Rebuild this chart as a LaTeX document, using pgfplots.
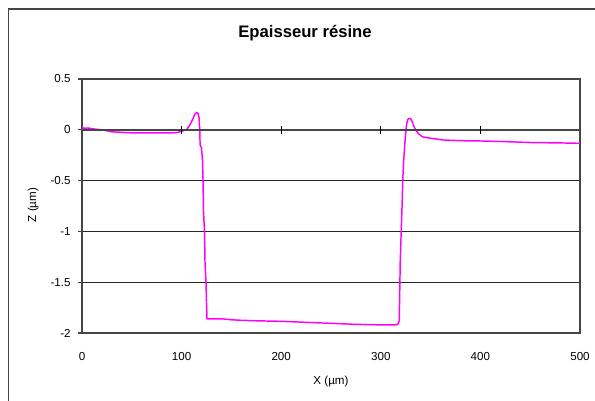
\documentclass[border=0pt]{standalone}
\usepackage{pgfplots}
\pgfplotsset{compat=1.18}
\usepackage{fontspec}
\setmainfont{Liberation Sans}
\definecolor{axgray}{HTML}{454545}
\begin{document}
\begin{tikzpicture}
\useasboundingbox (0,0) rectangle (446.25pt,300pt);
\begin{scope}
\clip (0,0) rectangle (446.25pt,300pt);
\draw[axgray, line width=1.1pt] (6.2pt,-10pt) rectangle (460pt,293.2pt);
\end{scope}
\begin{axis}[
  at={(61.5pt,50.25pt)}, anchor=south west,
  scale only axis, width=373.5pt, height=190.5pt,
  xmin=0, xmax=500, ymin=-2, ymax=0.5,
  xtick={0,100,200,300,400,500},
  xticklabels={0,100,200,300,400,500},
  ytick={-2,-1.5,-1,-0.5,0,0.5},
  yticklabels={-2,-1.5,-1,-0.5,0,0.5},
  ytick pos=left, tick align=outside,
  major tick length=3pt,
  xtick style={draw=none},
  ytick style={axgray, line width=0.9pt},
  ymajorgrids,
  grid style={black!85, line width=0.7pt},
  axis line style={axgray, line width=1.1pt},
  tick label style={font=\fontsize{8.7}{10}\selectfont},
  xticklabel style={yshift=-8pt},
  yticklabel style={xshift=-2pt},
  clip=false,
]
\addplot[color={rgb,255:red,255;green,0;blue,255}, line width=1.1pt] coordinates {
(0,0.02) (3,0.015) (6,0.018) (10,0.01) (15,0.005) (20,0.0) (25,-0.01) (30,-0.02) (40,-0.025) (50,-0.03) (60,-0.03) (70,-0.03) (80,-0.03) (90,-0.03) (95,-0.028) (100,-0.015) (103,-0.005) (105,0.0) (107,0.03) (109,0.06) (111,0.1) (113,0.15) (115,0.17) (116.5,0.16) (117.5,0.12) (118.2,0.0) (118.6,-0.15) (120,-0.18) (121,-0.3) (121.5,-0.5) (122,-0.8) (123,-1.0) (123.5,-1.3) (124.5,-1.5) (125,-1.7) (125.5,-1.86) (130,-1.86) (140,-1.86) (150,-1.87) (160,-1.875) (175,-1.88) (200,-1.885) (225,-1.895) (250,-1.905) (275,-1.915) (300,-1.92) (310,-1.92) (315,-1.92) (317.5,-1.91) (318.5,-1.88) (319,-1.6) (319.5,-1.3) (320.5,-1.0) (321.5,-0.7) (322,-0.5) (323,-0.3) (324,-0.15) (325,-0.03) (326,0.06) (327,0.1) (328,0.11) (330,0.11) (331.5,0.08) (333,0.04) (335,0.0) (338,-0.04) (342,-0.07) (348,-0.08) (355,-0.09) (362,-0.1) (375,-0.105) (390,-0.11) (400,-0.11) (420,-0.115) (435,-0.12) (450,-0.125) (470,-0.128) (485,-0.13) (500,-0.133)
};
\draw[axgray, line width=1.1pt] (axis cs:0,0) -- (axis cs:500,0);
\draw[black, line width=1pt] ([yshift=-3.2pt]axis cs:100,0) -- ([yshift=3.2pt]axis cs:100,0);
\draw[black, line width=1pt] ([yshift=-3.2pt]axis cs:200,0) -- ([yshift=3.2pt]axis cs:200,0);
\draw[black, line width=1pt] ([yshift=-3.2pt]axis cs:300,0) -- ([yshift=3.2pt]axis cs:300,0);
\draw[black, line width=1pt] ([yshift=-3.2pt]axis cs:400,0) -- ([yshift=3.2pt]axis cs:400,0);
\end{axis}
\node[font=\fontsize{12.5}{14}\selectfont\bfseries] at (228.75pt,275.25pt) {Epaisseur résine};
\node[font=\fontsize{8.7}{10}\selectfont] at (248.25pt,14.25pt) {X (µm)};
\node[font=\fontsize{8.7}{10}\selectfont, rotate=90] at (24.75pt,146.25pt) {Z (µm)};
\end{tikzpicture}
\end{document}
